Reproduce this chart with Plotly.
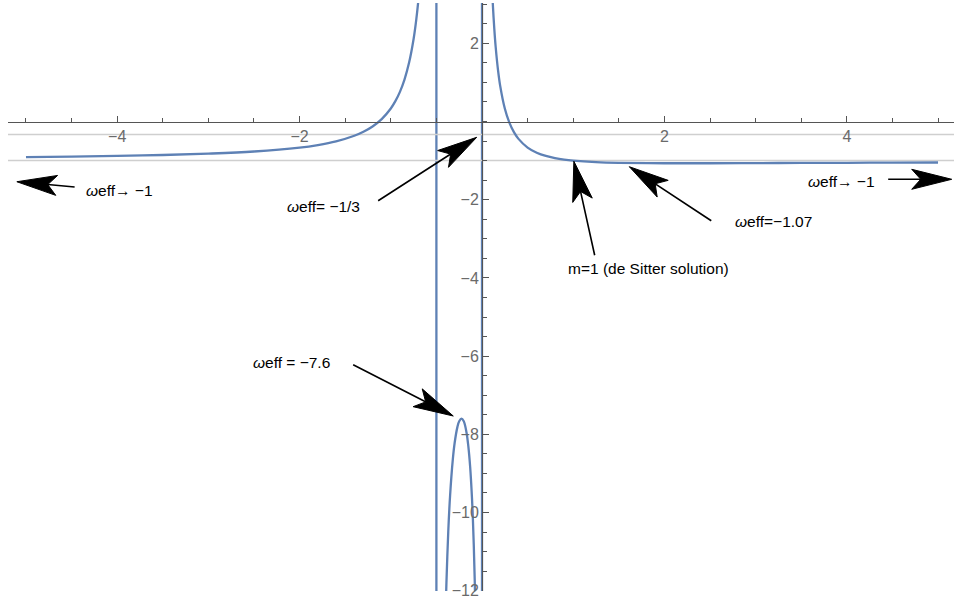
import math
import plotly.graph_objects as go

# omega_eff, three branches separated by the poles
m_left = [-5.0, -4.5, -4.0, -3.5, -3.0, -2.5, -2.0, -1.8, -1.6, -1.4, -1.3, -1.2, -1.1,
          -1.0, -0.95, -0.9, -0.85, -0.8, -0.75, -0.72, -0.7, -0.68]
w_left = [-0.911, -0.898, -0.881, -0.857, -0.822, -0.767, -0.667, -0.601, -0.508, -0.365,
          -0.263, -0.127, 0.061, 0.333, 0.520, 0.759, 1.073, 1.500, 2.111, 2.620, 3.048, 3.575]

m_mid = [-0.41, -0.4, -0.39, -0.37, -0.35, -0.32, -0.3, -0.27, -0.25, -0.225, -0.2, -0.17,
         -0.15, -0.13, -0.11, -0.1, -0.09, -0.08, -0.07, -0.065]
w_mid = [-13.737, -12.667, -11.800, -10.494, -9.571, -8.639, -8.222, -7.817, -7.667, -7.600,
         -7.667, -7.952, -8.302, -8.831, -9.625, -10.167, -10.846, -11.714, -12.849, -13.555]

m_right = [0.095, 0.11, 0.12, 0.135, 0.15, 0.175, 0.2, 0.25, 0.3, 0.35, 0.4, 0.5, 0.6, 0.7,
           0.8, 0.9, 1.0, 1.25, 1.5, 2.0, 2.5, 3.0, 3.5, 4.0, 4.5, 5.0]
w_right = [4.337, 3.421, 2.943, 2.363, 1.906, 1.328, 0.905, 0.333, -0.028, -0.272, -0.444,
           -0.667, -0.798, -0.881, -0.936, -0.974, -1.0, -1.038, -1.056, -1.067, -1.067,
           -1.063, -1.060, -1.056, -1.052, -1.048]

poles = [-0.5, 0.0]
grid_levels = [-1/3, -1]

x_ticks = [-4, -2, 2, 4]
y_ticks = [2, -2, -4, -6, -8, -10, -12]

blue = "#5E81B5"
axis_col = "#555555"
tick_font = dict(family="Liberation Sans, Arial", size=16, color="#6a6a6a")
note_font = dict(family="Liberation Sans, Arial", size=15.5, color="black")

xr = [-5.197, 5.175]
yr = [-12.008, 3.031]
W, H = 954, 603
mar = dict(l=8, r=0, t=3, b=12)
px_x = (W - mar["l"] - mar["r"]) / (xr[1] - xr[0])
px_y = (H - mar["t"] - mar["b"]) / (yr[1] - yr[0])

fig = go.Figure()

for m, w in [(m_left, w_left), (m_mid, w_mid), (m_right, w_right)]:
    fig.add_trace(go.Scatter(x=m, y=w, mode="lines", line=dict(color=blue, width=2.3, shape="spline"),
                             hoverinfo="skip", showlegend=False))

# vertical joins Mathematica draws across the poles
for p in poles:
    fig.add_shape(type="line", xref="x", yref="paper", x0=p, x1=p, y0=0, y1=1,
                  line=dict(color=blue, width=2.3), layer="below")

for g in grid_levels:
    fig.add_shape(type="line", xref="paper", yref="y", x0=0, x1=1, y0=g, y1=g,
                  line=dict(color="#cfcfcf", width=1.5), layer="below")

# (tip x, tip y, tail x, tail y)
arrows = [
    (-5.10, -1.54, -4.45, -1.68),
    (-0.058, -0.404, -1.155, -2.051),
    (5.15, -1.478, 4.437, -1.478),
    (1.007, -1.015, 1.239, -3.458),
    (1.615, -1.156, 2.530, -2.563),
    (-0.315, -7.532, -1.429, -6.202),
]
head_len, head_half, notch = 40, 10, 31
for tx, ty, ax, ay in arrows:
    fig.add_annotation(x=tx, y=ty, ax=ax, ay=ay, axref="x", ayref="y", xref="x", yref="y",
                       text="", showarrow=True, arrowhead=0, arrowwidth=1.6,
                       arrowcolor="black", standoff=12, startstandoff=0)
    # Mathematica-style narrow notched head, drawn in pixels around the tip
    dx, dy = (tx - ax) * px_x, (ty - ay) * px_y
    n = math.hypot(dx, dy)
    ux, uy = dx / n, dy / n
    vx, vy = -uy, ux
    pts = [(0, 0),
           (-head_len * ux + head_half * vx, -head_len * uy + head_half * vy),
           (-notch * ux, -notch * uy),
           (-head_len * ux - head_half * vx, -head_len * uy - head_half * vy)]
    path = "M" + " L".join(f"{p[0]:.2f},{p[1]:.2f}" for p in pts) + " Z"
    fig.add_shape(type="path", path=path, xref="x", yref="y", xsizemode="pixel", ysizemode="pixel",
                  xanchor=tx, yanchor=ty, fillcolor="black", line=dict(color="black", width=1),
                  layer="above")

notes = [
    (-3.975, -1.752, "<i>ω</i>eff→ −1"),
    (-1.743, -2.179, "<i>ω</i>eff= −1/3"),
    (3.942, -1.540, "<i>ω</i>eff→ −1"),
    (1.828, -3.754, "m=1 (de Sitter solution)"),
    (3.196, -2.563, "<i>ω</i>eff=−1.07"),
    (-2.092, -6.169, "<i>ω</i>eff = −7.6"),
]
for nx, ny, t in notes:
    fig.add_annotation(x=nx, y=ny, text=t, showarrow=False, font=note_font,
                       xanchor="center", yanchor="middle")

fig.update_xaxes(range=xr, anchor="free", position=-yr[0] / (yr[1] - yr[0]), automargin=False,
                 showline=True, linecolor=axis_col, linewidth=1,
                 showgrid=False, zeroline=False,
                 tickmode="array", tickvals=x_ticks, ticks="inside", ticklen=6,
                 tickcolor=axis_col, tickfont=tick_font,
                 minor=dict(dtick=0.5, tick0=0, ticks="inside", ticklen=4, tickcolor=axis_col, showgrid=False))
fig.update_yaxes(range=yr, anchor="free", position=-xr[0] / (xr[1] - xr[0]), automargin=False,
                 showline=True, linecolor=axis_col, linewidth=1,
                 showgrid=False, zeroline=False,
                 tickmode="array", tickvals=y_ticks, ticks="inside", ticklen=6,
                 tickcolor=axis_col, tickfont=tick_font,
                 minor=dict(dtick=0.5, tick0=0, ticks="inside", ticklen=4, tickcolor=axis_col, showgrid=False))

fig.update_layout(width=W, height=H, margin=mar,
                  plot_bgcolor="white", paper_bgcolor="white", showlegend=False)

# page has a default 8px body margin; drop it so the figure sits at the window corner
fig.write_html("out.html", config={"displayModeBar": False},
               post_script="document.body.style.margin='0px';")
